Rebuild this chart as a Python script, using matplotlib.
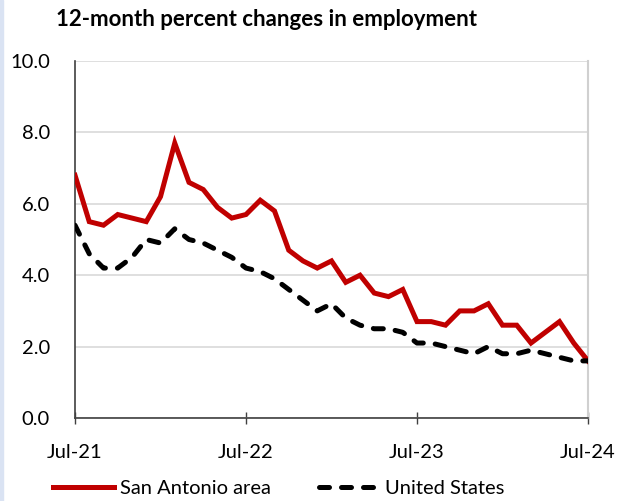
import matplotlib
matplotlib.use("Agg")
import matplotlib.pyplot as plt
from matplotlib.patches import Rectangle
import numpy as np

# monthly values Jul-21 .. Jul-24
months = np.arange(37)
tick_pos = [0, 12, 24, 36]
tick_labels = ["Jul-21", "Jul-22", "Jul-23", "Jul-24"]

san_antonio = [6.8, 5.5, 5.4, 5.7, 5.6, 5.5, 6.2, 7.7, 6.6, 6.4, 5.9, 5.6,
               5.7, 6.1, 5.8, 4.7, 4.4, 4.2, 4.4, 3.8, 4.0, 3.5, 3.4, 3.6,
               2.7, 2.7, 2.6, 3.0, 3.0, 3.2, 2.6, 2.6, 2.1, 2.4, 2.7, 2.1,
               1.6]
united_states = [5.4, 4.6, 4.2, 4.2, 4.5, 5.0, 4.9, 5.3, 5.0, 4.9, 4.7, 4.5,
                 4.2, 4.1, 3.9, 3.6, 3.3, 3.0, 3.2, 2.8, 2.6, 2.5, 2.5, 2.4,
                 2.1, 2.1, 2.0, 1.9, 1.8, 2.0, 1.8, 1.8, 1.9, 1.8, 1.7, 1.6,
                 1.6]

plt.rcParams['font.family'] = ['Lato', 'DejaVu Sans']

fig = plt.figure(figsize=(6.19, 5.01), dpi=100)
fig.patches.append(Rectangle((0, 0), 2.5 / 619, 1, transform=fig.transFigure,
                             color="#dae3f3", zorder=0))
ax = fig.add_axes([75 / 619, 1 - 418 / 501, 513 / 619, 357 / 501])

ax.plot(months, san_antonio, color="#c00000", lw=3.6, label="San Antonio area",
        solid_joinstyle="miter", zorder=3)
ax.plot(months, united_states, color="black", lw=3.6, ls=(0, (2.0, 2.4)),
        dash_capstyle="round", label="United States", zorder=3)

ax.set_xlim(0, 36)
ax.set_ylim(0, 10)
ax.set_yticks(np.arange(0, 10.1, 2))
ax.set_yticklabels([f"{v:.1f}" for v in np.arange(0, 10.1, 2)])
ax.set_xticks(tick_pos)
ax.set_xticklabels(tick_labels)
ax.grid(axis="y", color="#d9d9d9", lw=1.2, zorder=0)
ax.tick_params(axis="y", length=0, pad=18, labelsize=14.5)
ax.tick_params(axis="x", direction="inout", length=9, width=1, color="#404040",
               pad=14, labelsize=14.5)
ax.spines["top"].set_visible(False)
ax.spines["right"].set_color("#d0d0d0")
ax.spines["right"].set_linewidth(1.5)
ax.spines["left"].set_color("#404040")
ax.spines["bottom"].set_color("#404040")
ax.spines["left"].set_linewidth(1.2)
ax.spines["bottom"].set_linewidth(1.2)

fig.text(267 / 619, 1 - 20 / 501, "12-month percent changes in employment",
         ha="center", va="center", fontsize=16, fontweight="bold")

fig.legend(loc="center", bbox_to_anchor=(279 / 619, 1 - 488 / 501), ncol=2,
           frameon=False, fontsize=14.5, handlelength=3.0, handletextpad=0.3,
           columnspacing=2.4)

fig.savefig("out.png", dpi=100)
